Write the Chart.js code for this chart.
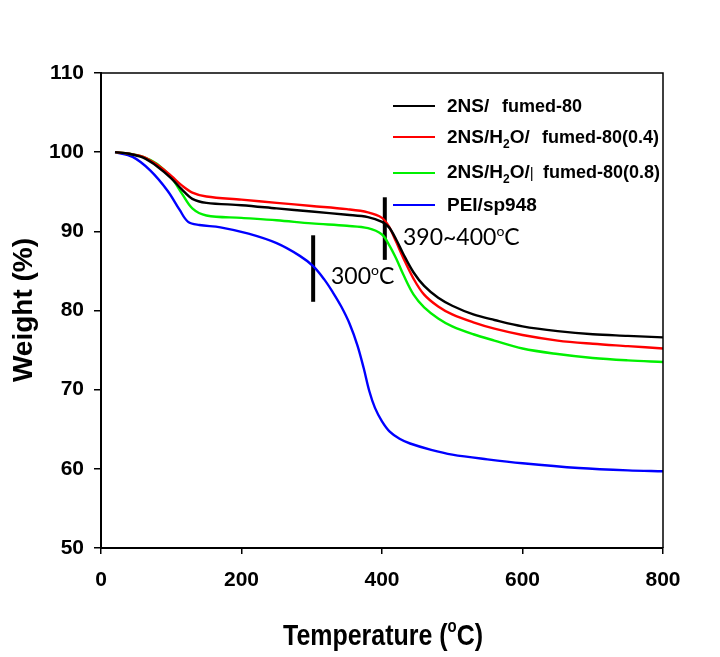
<!DOCTYPE html>
<html>
<head>
<meta charset="utf-8">
<script src="https://cdn.jsdelivr.net/npm/chart.js@4.4.0/dist/chart.umd.min.js"></script>
<style>
  html, body { margin: 0; padding: 0; background: #fff; }
  #wrap { width: 720px; height: 657px; }
</style>
</head>
<body>
<div id="wrap"><canvas id="tga" width="720" height="657"></canvas></div>
<script>
// TGA curves (temperature in °C, weight in %)
const temps = [20, 40, 60, 80, 100, 115, 130, 150, 200, 250, 300, 350, 380, 400, 410, 420, 430, 445, 460, 480, 500, 530, 560, 600, 650, 700, 750, 800];
const wFumed80 = [100, 99.8, 99.3, 98.2, 96.7, 95.3, 94.1, 93.6, 93.3, 92.9, 92.5, 92.1, 91.8, 91.2, 90.5, 89.0, 87.2, 84.8, 83.1, 81.6, 80.6, 79.5, 78.8, 78.0, 77.4, 77.0, 76.8, 76.6];
const wH2O04 = [100, 99.8, 99.4, 98.4, 97.0, 95.8, 94.9, 94.4, 94.0, 93.6, 93.2, 92.8, 92.4, 91.7, 90.6, 88.7, 86.7, 84.0, 82.0, 80.5, 79.5, 78.5, 77.7, 76.9, 76.2, 75.8, 75.5, 75.2];
const wH2O08 = [100, 99.8, 99.4, 98.5, 96.8, 94.8, 92.9, 92.0, 91.7, 91.4, 91.0, 90.7, 90.4, 89.6, 88.3, 86.6, 84.6, 82.0, 80.4, 79.0, 78.0, 77.0, 76.2, 75.2, 74.5, 74.0, 73.7, 73.5];
const tempsPEI = [20, 45, 70, 95, 112, 124, 140, 170, 210, 250, 283, 302, 318, 330, 342, 354, 365, 374, 382, 390, 400, 411, 425, 440, 470, 500, 550, 600, 680, 750, 800];
const wPEI = [100, 99.4, 97.7, 95.1, 92.7, 91.2, 90.8, 90.5, 89.7, 88.5, 86.9, 85.6, 83.9, 82.3, 80.5, 78.3, 75.6, 72.7, 69.8, 67.7, 66.0, 64.7, 63.8, 63.2, 62.4, 61.8, 61.2, 60.7, 60.1, 59.8, 59.7];

// the two black marker bars (temperature, bottom, top)
const markTemps = [302, 404];
const markLow = [81.1, 86.4];
const markHigh = [89.5, 94.3];

const xTicks = [0, 200, 400, 600, 800];
const yTicks = [50, 60, 70, 80, 90, 100, 110];

const seriesNames = ['2NS/', '2NS/H2O/', '2NS/H2O/|', 'PEI/sp948'];
const colors = ['#000000', '#ff0000', '#00f000', '#0000ff'];

const pts = (xs, ys) => xs.map((x, i) => ({ x, y: ys[i] }));

const curve = (label, data, color) => ({
  label, data, borderColor: color, backgroundColor: color,
  borderWidth: 2.4, pointRadius: 0, tension: 0.35,
});

const datasets = [
  curve(seriesNames[0], pts(temps, wFumed80), colors[0]),
  curve(seriesNames[1], pts(temps, wH2O04), colors[1]),
  curve(seriesNames[2], pts(temps, wH2O08), colors[2]),
  curve(seriesNames[3], pts(tempsPEI, wPEI), colors[3]),
];
markTemps.forEach((t, i) => {
  datasets.push({
    label: 'mark' + i,
    data: [{ x: t, y: markLow[i] }, { x: t, y: markHigh[i] }],
    borderColor: '#000', borderWidth: 4, pointRadius: 0, borderCapStyle: 'butt',
  });
});

// draw a run of text pieces: [text, font, dy]
function drawRun(ctx, x, y, parts) {
  for (const [t, font, dy] of parts) {
    ctx.font = font;
    ctx.fillText(t, x, y + (dy || 0));
    x += ctx.measureText(t).width;
  }
  return x;
}

const decor = {
  id: 'decor',
  afterDraw(chart) {
    const { ctx, chartArea: a } = chart;
    ctx.save();
    // top + right frame
    ctx.strokeStyle = '#000';
    ctx.lineWidth = 1.5;
    ctx.beginPath();
    ctx.moveTo(a.left, a.top);
    ctx.lineTo(a.right, a.top);
    ctx.lineTo(a.right, a.bottom);
    ctx.stroke();

    ctx.fillStyle = '#000';
    ctx.textBaseline = 'alphabetic';
    ctx.textAlign = 'left';

    // legend
    const rows = [106, 137, 173, 205];
    const B19 = 'bold 19px "Liberation Sans", Arial, sans-serif';
    const B18 = 'bold 18px "Liberation Sans", Arial, sans-serif';
    const B12 = 'bold 12px "Liberation Sans", Arial, sans-serif';
    rows.forEach((ry, i) => {
      ctx.strokeStyle = colors[i];
      ctx.lineWidth = 2;
      ctx.beginPath();
      ctx.moveTo(393, ry);
      ctx.lineTo(435, ry);
      ctx.stroke();
    });
    drawRun(ctx, 447, 112, [['2NS/', B19]]);
    drawRun(ctx, 502, 112, [['fumed-80', B18]]);
    drawRun(ctx, 447, 143, [['2NS/H', B19], ['2', B12, 5], ['O/', B19]]);
    drawRun(ctx, 542, 143, [['fumed-80(0.4)', B18]]);
    drawRun(ctx, 447, 178, [['2NS/H', B19], ['2', B12, 5], ['O/', B19], ['|', '15px "Liberation Sans", Arial, sans-serif']]);
    drawRun(ctx, 543, 178, [['fumed-80(0.8)', B18]]);
    drawRun(ctx, 447, 211, [['PEI/sp948', B19]]);

    // annotations
    const A = '23px Lato, "Open Sans", sans-serif';
    const As = '14px Lato, "Open Sans", sans-serif';
    drawRun(ctx, 331, 284, [['300', A], ['o', As, -9], ['C', A]]);
    drawRun(ctx, 403, 245, [['390~400', A], ['o', As, -9], ['C', A]]);

    // x title, squeezed to the narrow look of the original
    const XF = 'bold 30px "Liberation Sans", Arial, sans-serif';
    const XS = 'bold 18px "Liberation Sans", Arial, sans-serif';
    ctx.font = XF;
    let w = ctx.measureText('Temperature (C)').width;
    ctx.font = XS;
    w += ctx.measureText('o').width;
    ctx.save();
    ctx.translate(283, 645);
    ctx.scale(200 / w, 1);
    drawRun(ctx, 0, 0, [['Temperature (', XF], ['o', XS, -13], ['C)', XF]]);
    ctx.restore();

    // y title
    ctx.save();
    ctx.translate(32, 310);
    ctx.rotate(-Math.PI / 2);
    ctx.textAlign = 'center';
    ctx.font = 'bold 28px "Liberation Sans", Arial, sans-serif';
    ctx.fillText('Weight (%)', 0, 0);
    ctx.restore();
    ctx.restore();
  }
};

const tickFont = { family: '"Liberation Sans", Arial, sans-serif', size: 21, weight: 'bold' };

new Chart(document.getElementById('tga'), {
  type: 'line',
  data: { datasets },
  options: {
    responsive: false,
    animation: false,
    events: [],
    layout: { padding: { left: 0, top: 73, right: 57, bottom: 0 } },
    plugins: { legend: { display: false }, tooltip: { enabled: false } },
    scales: {
      x: {
        type: 'linear', min: 0, max: 800,
        afterBuildTicks: (s) => { s.ticks = xTicks.map((v) => ({ value: v })); },
        afterFit: (s) => { s.height = 109; },
        border: { display: true, color: '#000', width: 2 },
        grid: { drawOnChartArea: false, drawTicks: true, tickLength: 6, color: '#000', lineWidth: 1.5 },
        ticks: { color: '#000', font: tickFont, padding: 14, maxRotation: 0 },
      },
      y: {
        min: 50, max: 110,
        afterBuildTicks: (s) => { s.ticks = yTicks.map((v) => ({ value: v })); },
        afterFit: (s) => { s.width = 101; },
        border: { display: true, color: '#000', width: 2 },
        grid: { drawOnChartArea: false, drawTicks: true, tickLength: 7, color: '#000', lineWidth: 1.5 },
        ticks: { color: '#000', font: tickFont, padding: 10 },
      },
    },
  },
  plugins: [decor],
});
</script>
</body>
</html>
